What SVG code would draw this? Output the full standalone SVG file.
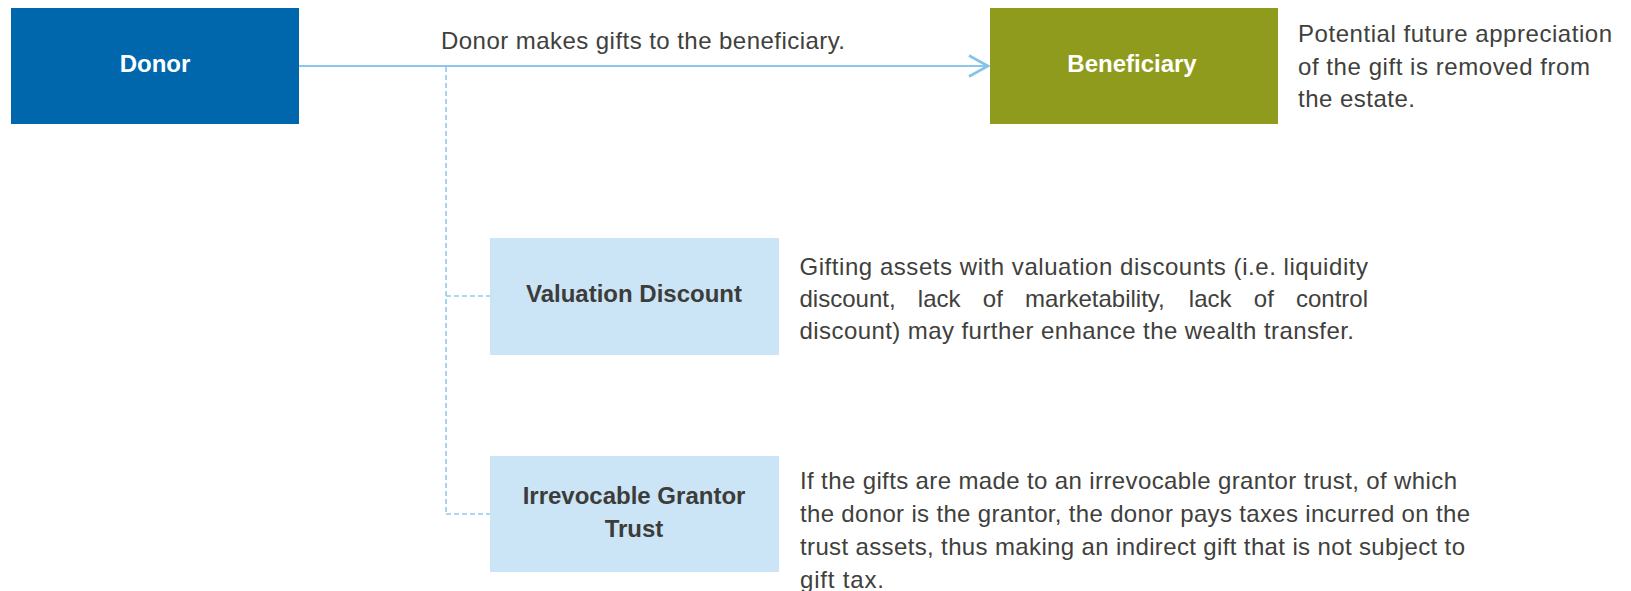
<svg xmlns="http://www.w3.org/2000/svg" width="1631" height="591" viewBox="0 0 1631 591">
<style>
.lbl{font-family:"Liberation Sans",Arial,sans-serif;font-weight:bold;font-size:24px;text-anchor:middle}
.w{fill:#ffffff}
.d{fill:#3c3c3a}
.body{font-family:"Liberation Sans",Arial,sans-serif;font-size:24px;fill:#40403c}
.conn{stroke:#8cc6ee;fill:none}
.dash{stroke:#8ecaee;stroke-width:1.6;stroke-dasharray:5 3;fill:none}
</style>
<defs>
<marker id="chev" markerWidth="24" markerHeight="26" refX="20" refY="12" orient="auto" markerUnits="userSpaceOnUse">
<path d="M1,1.5 L20,12 L1,22.5" fill="none" stroke="#86c2ec" stroke-width="2.6"/>
</marker>
</defs>
<rect width="1631" height="591" fill="#ffffff"/>
<g id="connectors">
<line class="conn" x1="299" y1="66" x2="988" y2="66" stroke-width="2.2" marker-end="url(#chev)"/>
<path class="dash" d="M446,67 V514"/>
<path class="dash" d="M446,296 H490"/>
<path class="dash" d="M446,514 H490"/>
</g>
<g id="donor">
<rect x="11" y="8" width="288" height="116" fill="#0067ac"/>
<text class="lbl w" x="155" y="72">Donor</text>
</g>
<g id="gift-label">
<text class="body" x="441" y="49" textLength="404" lengthAdjust="spacing">Donor makes gifts to the beneficiary.</text>
</g>
<g id="beneficiary">
<rect x="990" y="8" width="288" height="116" fill="#8f9b1d"/>
<text class="lbl w" x="1132" y="72">Beneficiary</text>
</g>
<g id="beneficiary-note">
<text class="body" x="1298" y="42" textLength="314" lengthAdjust="spacing">Potential future appreciation</text>
<text class="body" x="1298" y="75" textLength="292" lengthAdjust="spacing">of the gift is removed from</text>
<text class="body" x="1298" y="107" textLength="117" lengthAdjust="spacing">the estate.</text>
</g>
<g id="valuation-discount">
<rect x="490" y="238" width="289" height="117" fill="#cbe5f6"/>
<text class="lbl d" x="634" y="302">Valuation Discount</text>
</g>
<g id="valuation-note">
<text class="body" x="799.5" y="275" textLength="568.5" lengthAdjust="spacing">Gifting assets with valuation discounts (i.e. liquidity</text>
<text class="body" y="307"><tspan x="799.5">discount,</tspan><tspan x="917.8">lack</tspan><tspan x="982.8">of</tspan><tspan x="1025.1">marketability,</tspan><tspan x="1188.8">lack</tspan><tspan x="1253.8">of</tspan></text>
<text class="body" x="1368" y="307" text-anchor="end">control</text>
<text class="body" x="799.5" y="339" textLength="554.5" lengthAdjust="spacing">discount) may further enhance the wealth transfer.</text>
</g>
<g id="irrevocable-grantor-trust">
<rect x="490" y="456" width="289" height="116" fill="#cbe5f6"/>
<text class="lbl d" x="634" y="504">Irrevocable Grantor</text>
<text class="lbl d" x="634" y="537">Trust</text>
</g>
<g id="trust-note">
<text class="body" x="800" y="489" textLength="657" lengthAdjust="spacing">If the gifts are made to an irrevocable grantor trust, of which</text>
<text class="body" x="800" y="522" textLength="670" lengthAdjust="spacing">the donor is the grantor, the donor pays taxes incurred on the</text>
<text class="body" x="800" y="555" textLength="665" lengthAdjust="spacing">trust assets, thus making an indirect gift that is not subject to</text>
<text class="body" x="800" y="588" textLength="84" lengthAdjust="spacing">gift tax.</text>
</g>
</svg>
